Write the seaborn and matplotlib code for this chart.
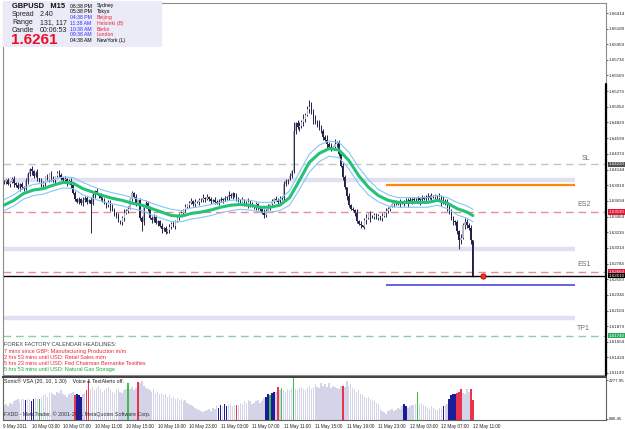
import numpy as np
import pandas as pd
import matplotlib
matplotlib.use("Agg")
import matplotlib.pyplot as plt
import matplotlib.transforms as mtransforms
from matplotlib.patches import Rectangle
import seaborn as sns

# --- DATA (prices as pips above 1.6000, M15 bars) ---
CLOSE_PIPS = [
    396, 399, 393, 397, 401, 395, 392, 388, 394, 389,
    386, 398, 408, 416, 412, 405, 410, 402, 398, 392,
    395, 404, 400, 408, 403, 399, 405, 410, 407, 402,
    399, 401, 396, 398, 392, 380, 372, 368, 372, 366,
    370, 374, 367, 371, 365, 378, 383, 380, 376, 373,
    370, 366, 363, 368, 360, 356, 352, 348, 340, 338,
    345, 352, 355, 358, 372, 380, 375, 366, 370, 345,
    338, 360, 366, 357, 345, 342, 346, 337, 340, 333,
    328, 330, 324, 327, 331, 336, 333, 340, 345, 349,
    352, 356, 360, 363, 366, 369, 365, 368, 367, 371,
    370, 374, 372, 375, 372, 369, 371, 368, 366, 369,
    372, 370, 373, 375, 378, 376, 380, 376, 372, 370,
    368, 371, 366, 364, 368, 363, 362, 360, 364, 359,
    358, 352, 349, 355, 360, 364, 369, 372, 370, 368,
    372, 374, 393, 398, 400, 405, 412, 470, 482, 476,
    478, 483, 488, 494, 502, 505, 498, 487, 484, 482,
    476, 470, 462, 458, 452, 448, 446, 447, 451, 453,
    437, 420, 404, 389, 376, 363, 357, 356, 352, 340,
    336, 334, 332, 341, 345, 350, 348, 346, 349, 345,
    347, 344, 347, 351, 354, 357, 361, 364, 366, 367,
    365, 368, 366, 368, 369, 371, 369, 372, 370, 371,
    373, 371, 374, 372, 375, 376, 374, 377, 375, 376,
    374, 375, 372, 370, 366, 360, 354, 343, 340, 338,
    325, 312, 316, 334, 339, 334, 330, 312, 261,
]
# wick sizes in pips beyond the body (one digit per bar)
WICK_UP = ("3241352413" "2531423514" "3142531243" "2413524132" "5231432514"
           "2413253142" "3524132413" "2143524312" "4231524132" "3142352413"
           "2514231423" "3241532143" "2413524132" "3152413243" "4253142315"
           "6472538463" "5342635243" "4253142315" "2413524132" "3142531243"
           "2413524132" "3142352413" "2534264352" "425364351")
WICK_DN = ("2314253142" "3142531423" "2413524132" "3152413243" "4231524132"
           "2143524312" "3524132413" "2413253142" "5231432514" "2531423514"
           "3241352413" "2413524132" "3142531243" "4253142315" "3152413243"
           "5364253746" "4352635243" "3142531243" "2413524132" "3241532143"
           "2514231423" "3142352413" "3425364253" "435264352")
BIG_HIGH = {147: 10, 155: 8, 168: 4}
BIG_LOW = {44: 38, 70: 10, 186: 6, 205: 6, 211: 7, 222: 8, 231: 10}

# moving average and its channel, every 5 bars (pips above 1.6000)
MA_PIPS = [363, 370, 380, 385, 387, 392, 396, 395, 387, 382, 377, 373, 370, 366,
           363, 358, 353, 348, 347, 351, 353, 356, 360, 363, 364, 363, 360, 360,
           363, 374, 399, 425, 438, 445, 443, 428, 406, 389, 377, 370, 367, 367,
           367, 367, 370, 366, 358, 353, 348]
UPPER_PIPS = [371, 378, 388, 393, 395, 400, 404, 403, 396, 390, 385, 381, 378, 374,
              371, 366, 361, 357, 355, 359, 361, 364, 367, 370, 371, 370, 367, 367,
              371, 384, 411, 437, 450, 456, 454, 440, 418, 400, 386, 378, 374, 374,
              374, 374, 377, 374, 367, 362, 357]
LOWER_PIPS = [355, 362, 372, 377, 379, 384, 388, 387, 378, 373, 368, 365, 362, 358,
              355, 349, 344, 339, 339, 343, 345, 348, 352, 355, 357, 356, 353, 353,
              355, 363, 386, 411, 426, 434, 432, 416, 394, 378, 368, 362, 360, 360,
              360, 360, 363, 358, 349, 344, 339]

VOLUME = [
    1250, 1300, 1200, 1350, 1280, 1400, 1450, 1500, 1380, 1520,
    1480, 1450, 1500, 1450, 1420, 1500, 1550, 1480, 1520, 1600,
    1650, 1700, 1600, 1750, 1800, 1700, 1650, 1800, 1750, 1850,
    1700, 1650, 1600, 1700, 1750, 1800, 1650, 1700, 1650, 1600,
    1700, 1750, 1870, 2240, 1900, 2000, 1850, 1950, 2050, 1900,
    1800, 1850, 1950, 2000, 1900, 1800, 1750, 1850, 1900, 1800,
    1750, 1850, 1900, 2150, 1900, 2000, 1850, 1950, 2200, 2150,
    2250, 2050, 1950, 1900, 1850, 1800, 1900, 1750, 1800, 1700,
    1750, 1650, 1700, 1600, 1650, 1550, 1600, 1500, 1550, 1450,
    1500, 1400, 1450, 1350, 1300, 1250, 1200, 1150, 1100, 1050,
    1000, 950, 1000, 1050, 1100, 1000, 1150, 1100, 1200, 1150,
    1250, 1200, 1300, 1200, 1250, 1300, 1200, 1250, 1250, 1250,
    1350, 1300, 1400, 1350, 1450, 1400, 1300, 1350, 1400, 1450,
    1350, 1400, 1550, 1600, 1700, 1650, 1750, 1800, 1800, 2000,
    1850, 1950, 1850, 1800, 1900, 1850, 1950, 2350, 1900, 1850,
    1950, 2000, 1900, 1850, 1950, 2050, 1900, 2000, 2100, 2000,
    1950, 2150, 2050, 2100, 2000, 2150, 1950, 2050, 2000, 1950,
    1900, 2050, 2050, 2000, 2250, 2050, 2100, 1950, 1900, 1800,
    1850, 1700, 1650, 1600, 1550, 1600, 1500, 1450, 1400, 1350,
    1300, 1100, 1000, 950, 900, 1000, 1050, 1100, 1000, 1050,
    1150, 1100, 1200, 1300, 1200, 1150, 1200, 1250, 1250, 1300,
    1800, 1300, 1350, 1250, 1200, 1150, 1100, 1200, 1150, 1100,
    1050, 1150, 1100, 1200, 1250, 1300, 1500, 1650, 1700, 1700,
    1750, 1800, 1900, 1750, 1700, 1900, 1800, 1900, 1450,
]
# g = normal, b = navy, r = red, G = green
VOL_CLASS = ("gggggggggg" "gbggbbggGg" "gggggggggg" "ggggggrbbb" "ggrrgggggg"
             "gggggggggg" "gggGggggrg" "gggggggggg" "gggggggggg" "gggggggggg"
             "gggggggggb" "bgbbggggrg" "gggggggggg" "gggbbGbbgr" "gGgggggGgg"
             "gggggggggg" "gggggggggg" "ggrggggggg" "gggggggggg" "gggggggggg"
             "gggbbggggg" "Gggggggggg" "gggbggbbbb" "rrrggggrr")

TIME_LABELS = ["9 May 2011", "10 May 03:00", "10 May 07:00", "10 May 11:00",
               "10 May 15:00", "10 May 19:00", "10 May 23:00", "11 May 03:00",
               "11 May 07:00", "11 May 11:00", "11 May 15:00", "11 May 19:00",
               "11 May 23:00", "12 May 03:00", "12 May 07:00", "12 May 11:00"]
PRICE_TICKS = [1.66414, 1.66189, 1.65959, 1.65734, 1.65509, 1.65279, 1.65054,
               1.64829, 1.64599, 1.64374, 1.64144, 1.63919, 1.63694, 1.63464,
               1.63239, 1.63014, 1.62784, 1.62559, 1.62334, 1.62104, 1.61879,
               1.61654, 1.61424, 1.61199]

# horizontal levels
ROUND_LEVELS = [1.6400, 1.6300, 1.6200]
ORANGE_LEVEL = 1.6392
BLUE_LEVEL = 1.6247
LEVELS = {"SL": 1.6422, "ES2": 1.6353, "ES1": 1.6266, "TP1": 1.6174}
BID = 1.6261

HEADLINES = [("FOREX FACTORY CALENDAR HEADLINES:", "#404040"),
             ("7 mins since GBP: Manufacturing Production m/m", "#e8283c"),
             ("2 hrs 53 mins until USD: Retail Sales m/m", "#e8283c"),
             ("5 hrs 23 mins until USD: Fed Chairman Bernanke Testifies", "#e8283c"),
             ("5 hrs 53 mins until USD: Natural Gas Storage", "#1fa83a")]
SESSIONS = [("06:38 PM", "Sydney", "k", "k"), ("05:38 PM", "Tokyo", "k", "k"),
            ("04:38 PM", "Beijing", "#2a2aff", "#e8283c"),
            ("11:38 AM", "Helsinki (B)", "#2a2aff", "#e8283c"),
            ("10:38 AM", "Berlin", "#2a2aff", "#e8283c"),
            ("09:38 AM", "London", "#2a2aff", "#e8283c"),
            ("04:38 AM", "NewYork (L)", "k", "k")]

# --- build frames ---
n = len(CLOSE_PIPS)
assert len(VOLUME) == n and len(VOL_CLASS) == n and len(WICK_UP) == n and len(WICK_DN) == n
bars = pd.DataFrame({"i": np.arange(n), "close": 1.6 + np.array(CLOSE_PIPS) / 1e4})
bars["open"] = bars["close"].shift(1).fillna(bars["close"].iloc[0])
up = np.array([int(c) for c in WICK_UP]) + np.array([BIG_HIGH.get(i, 0) for i in range(n)])
dn = np.array([int(c) for c in WICK_DN]) + np.array([BIG_LOW.get(i, 0) for i in range(n)])
bars["high"] = bars[["open", "close"]].max(axis=1) + up / 1e4
bars["low"] = bars[["open", "close"]].min(axis=1) - dn / 1e4
ma_idx = list(range(0, n - 3, 5)) + [n - 1]
ma = pd.DataFrame({"i": ma_idx, "ma": 1.6 + np.array(MA_PIPS) / 1e4,
                   "up": 1.6 + np.array(UPPER_PIPS) / 1e4,
                   "lo": 1.6 + np.array(LOWER_PIPS) / 1e4})

sns.set_style("white")
plt.rcParams["font.family"] = ["Liberation Sans", "DejaVu Sans"]

W, H = 625, 429
fig = plt.figure(figsize=(W / 100, H / 100), dpi=100)
fig.patch.set_facecolor("white")


def ptxt(x, y, s, **kw):
    kw.setdefault("va", "center")
    fig.text(x / W, 1 - y / H, s, **kw)


XL = (-0.5, -0.5 + 603 / 1.97)
ax = fig.add_axes([3 / W, 1 - 375 / H, 603 / W, 372 / H])
axv = fig.add_axes([3 / W, 1 - 420 / H, 603 / W, 43 / H])

# candles
bull = bars["close"] >= bars["open"]
ax.vlines(bars["i"], bars["low"], bars["high"], color="#26264e", lw=0.7, zorder=3)
ax.bar(bars["i"], (bars["close"] - bars["open"]).abs().clip(lower=0.00008),
       bottom=bars[["open", "close"]].min(axis=1), width=0.65,
       color=np.where(bull, "#b4b4c4", "#22224a"), linewidth=0, zorder=4)

# moving average channel
sns.lineplot(data=ma, x="i", y="up", ax=ax, color="#86c6f4", lw=0.8, zorder=5)
sns.lineplot(data=ma, x="i", y="lo", ax=ax, color="#86c6f4", lw=0.8, zorder=5)
sns.lineplot(data=ma, x="i", y="ma", ax=ax, color="#22c277", lw=2.2, zorder=6)

# levels
ax.hlines(ROUND_LEVELS, -2, 290, color="#e0e0f2", lw=3.2, zorder=1)
ax.hlines(ORANGE_LEVEL, 194, 290, color="#ff8a00", lw=1.6, zorder=2)
ax.hlines(BLUE_LEVEL, 194, 290, color="#4a4ad6", lw=1.2, zorder=2)
lvl_colors = {"SL": "#c4c4c4", "ES2": "#ec8c98", "ES1": "#ec8c98", "TP1": "#8cceaa"}
for name, p in LEVELS.items():
    ax.axhline(p, color=lvl_colors[name], lw=1.0, dashes=(5.5, 3.5), zorder=2)
ax.axhline(BID, color="black", lw=1.0, zorder=2)
ax.plot([n + 4], [BID], "o", color="#ff3020", ms=3.5, mec="#c02010", zorder=7, clip_on=False)

ax.set_xlim(*XL)
ax.set_ylim(1.6117, 1.66559)
ax.set_xticks([])
ax.set_xlabel("")
ax.set_ylabel("")
ax.yaxis.tick_right()
ax.set_yticks(PRICE_TICKS)
ax.set_yticklabels([f"{p:.5f}" for p in PRICE_TICKS])
ax.tick_params(axis="y", labelsize=3.2, length=1.5, width=0.5, pad=0.5, colors="#202020")
for s in ax.spines.values():
    s.set_color("#8c8c8c")
    s.set_linewidth(0.8)
ax.plot([1.0, 1.0], [0, (375 - 84) / 372], transform=ax.transAxes, color="black",
        lw=1.6, clip_on=False, zorder=8)

# price boxes on the axis
trans = mtransforms.blended_transform_factory(ax.transAxes, ax.transData)
boxes = [(LEVELS["SL"], "1.64220", "#505050"), (LEVELS["ES2"], "1.63530", "#e01838"),
         (LEVELS["ES1"], "1.62660", "#e01838"), (BID, "1.62610", "#000000"),
         (LEVELS["TP1"], "1.61740", "#2eaa5a")]
for p, s, c in boxes:
    ax.text(1.0045, p, s, transform=trans, fontsize=3.2, color="white", va="center",
            ha="left", bbox=dict(facecolor=c, edgecolor="none", pad=0.6), zorder=9,
            clip_on=False)

# level names
for name, (x, y) in {"SL": (582, 158), "ES2": (577, 205), "ES1": (577, 265),
                     "TP1": (577, 329)}.items():
    ptxt(x, y, name, fontsize=5, color="#707070")

# volume panel
pal = {"g": "#d4d4e8", "b": "#1c1c98", "r": "#e8344c", "G": "#3cbf4e"}
axv.bar(np.arange(n), VOLUME, width=0.75, color=[pal[c] for c in VOL_CLASS],
        linewidth=0)
axv.set_xlim(*XL)
axv.set_ylim(639, 2401)
axv.yaxis.tick_right()
axv.set_yticks([680.45, 2277.95])
axv.set_yticklabels(["680.45", "2277.95"])
axv.tick_params(axis="y", labelsize=3.2, length=1.5, width=0.5, pad=0.5, colors="#202020")
tick_pos = [-0.4] + [14 + 16 * k for k in range(len(TIME_LABELS) - 1)]
axv.set_xticks(tick_pos)
axv.set_xticklabels(TIME_LABELS)
axv.tick_params(axis="x", labelsize=3.3, length=2, width=0.5, pad=1, colors="#202020")
for lab in axv.get_xticklabels():
    lab.set_ha("left")
for s in axv.spines.values():
    s.set_color("#606060")
    s.set_linewidth(0.8)
axv.spines["top"].set_linewidth(1.4)
axv.spines["top"].set_color("#404040")
ptxt(4, 381, "Sonic\u00ae VSA (20, 10, 1.30)    Voice & TextAlerts off.", fontsize=3.8,
     color="#202020")
ptxt(4, 414, "FXDD - MetaTrader, \u00a9 2001-2011 MetaQuotes Software Corp.",
     fontsize=3.8, color="#303030")

# calendar headlines
for k, (s, c) in enumerate(HEADLINES):
    ptxt(4, 345 + 6.2 * k, s, fontsize=4, color=c)

# info box
fig.patches.append(Rectangle((3 / W, 1 - 47 / H), 159 / W, 46 / H, transform=fig.transFigure,
                             facecolor="#ebebf7", edgecolor="none", zorder=2))
ptxt(12, 7, "GBPUSD   M15", fontsize=5.4, fontweight="bold", color="#101010")
for k, (a, b) in enumerate([("Spread", "2.40"), ("Range", "131, 117"),
                            ("Candle", "00:06:53")]):
    ptxt(12, 15 + 7.5 * k, a, fontsize=5, color="#202020")
    ptxt(40, 15 + 7.5 * k, b, fontsize=5, color="#202020")
ptxt(11, 40, "1.6261", fontsize=11, fontweight="bold", color="#e8102a")
for k, (t, city, ct, cc) in enumerate(SESSIONS):
    ptxt(70, 6 + 5.8 * k, t, fontsize=3.7, color=ct)
    ptxt(97, 6 + 5.8 * k, city, fontsize=3.7, color=cc)

fig.savefig("out.png", dpi=100)
